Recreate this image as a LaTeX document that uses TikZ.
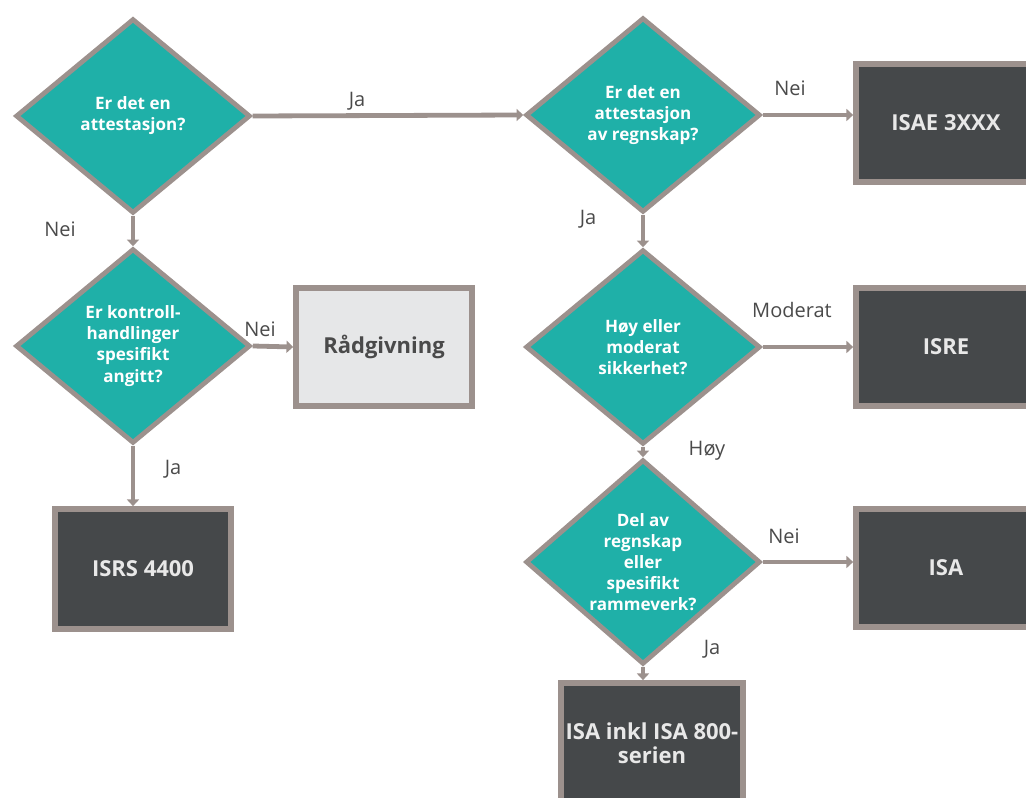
\documentclass[tikz,border=0pt]{standalone}
\usepackage{fontspec}
\setmainfont{Open Sans}
\usetikzlibrary{shapes.geometric,arrows.meta}
\definecolor{teal}{HTML}{1FB0A8}
\definecolor{edge}{HTML}{9C918D}
\definecolor{darkbox}{HTML}{45484A}
\definecolor{lightbox}{HTML}{E6E7E8}
\definecolor{labtext}{HTML}{4A4A4A}
\definecolor{boxtext}{HTML}{E8E8E8}
\tikzset{
  dia/.style={diamond, draw=edge, line width=3.6pt, fill=teal, inner sep=0pt,
    minimum width=176pt, minimum height=146pt, text=white, align=center,
    font=\fontsize{12.8}{15.8}\selectfont\bfseries},
  dbox/.style={rectangle, draw=edge, line width=4.3pt, fill=darkbox, text=boxtext,
    minimum width=132pt, minimum height=88pt, align=center,
    font=\fontsize{16.5}{18}\selectfont\bfseries},
  lbox/.style={dbox, fill=lightbox, text=labtext},
  conn/.style={draw=edge, line width=3.6pt, -{Triangle[width=9pt,length=5pt]}},
  lab/.style={text=labtext, font=\fontsize{15}{17}\selectfont}
}
\begin{document}
\begin{tikzpicture}[x=0.75pt,y=-0.75pt]
\useasboundingbox (0,0) rectangle (1026,798);
\clip (0,0) rectangle (1026,798);
% diamonds
\node[dia] (d1) at (133,116) {Er det en\\attestasjon?};
\node[dia] (d2) at (643,115) {Er det en\\attestasjon\\av regnskap?};
\node[dia] (d3) at (133,346) {Er kontroll-\\handlinger\\spesifikt\\angitt?};
\node[dia] (d4) at (643,347) {Høy eller\\moderat\\sikkerhet?};
\node[dia] (d5) at (643,562) {Del av\\regnskap\\eller\\spesifikt\\rammeverk?};
% boxes
\node[dbox, minimum width=135pt] (isae) at (946,123) {ISAE 3XXX};
\node[lbox] (rad) at (384,347) {Rådgivning};
\node[dbox, minimum width=135pt] (isre) at (946,347) {ISRE};
\node[dbox, minimum height=90pt] (isrs) at (143,569) {ISRS 4400};
\node[dbox, minimum width=135pt] (isa) at (946,568) {ISA};
\node[dbox, minimum width=134pt, minimum height=90pt] (isa8) at (652,743) {ISA inkl ISA 800-\\serien};
% connectors
\draw[conn] (d1.east) -- (d2.west);
\draw[conn] (d2.east) -- (d2.east -| isae.west);
\draw[conn] (d2.south) -- (d4.north);
\draw[conn] (d1.south) -- (d3.north);
\draw[conn] (d3.east) -- (rad.west);
\draw[conn] (d3.south) -- (d3.south |- isrs.north);
\draw[conn] (d4.east) -- (d4.east -| isre.west);
\draw[conn] (d4.south) -- (d5.north);
\draw[conn] (d5.east) -- (d5.east -| isa.west);
\draw[conn] (d5.south) -- (d5.south |- isa8.north);
% labels
\node[lab] (l1) at (357,101) {Ja};
\node[lab] (l2) at (790,88) {Nei};
\node[lab] (l3) at (588,219) {Ja};
\node[lab] (l4) at (60,229) {Nei};
\node[lab] (l5) at (260,329) {Nei};
\node[lab] (l6) at (173,469) {Ja};
\node[lab] (l7) at (792,310) {Moderat};
\node[lab] (l8) at (707,451) {Høy};
\node[lab] (l9) at (784,536) {Nei};
\node[lab] (l10) at (712,649) {Ja};
\end{tikzpicture}
\end{document}
